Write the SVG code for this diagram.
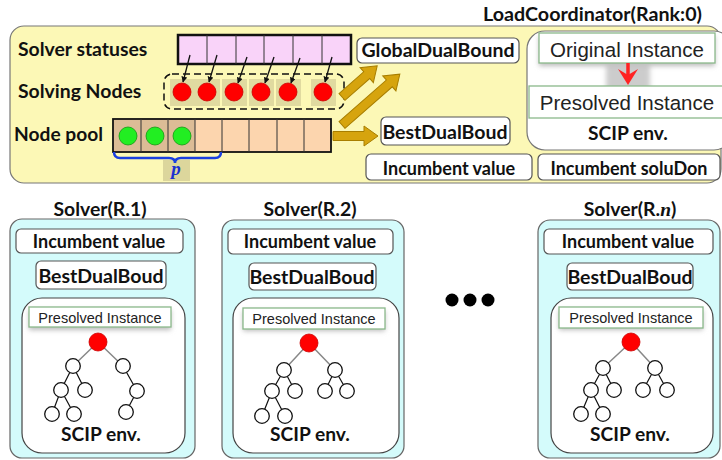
<svg xmlns="http://www.w3.org/2000/svg" width="722" height="460" viewBox="0 0 722 460">
<style>
.lbl{font-family:Lato,"Open Sans","Liberation Sans",sans-serif;font-weight:bold;fill:#111}
.inst{font-family:"Liberation Sans",Arial,sans-serif;fill:#222}
.box{fill:#fff;stroke:#555;stroke-width:1.2}
.ibox{fill:#fff;stroke:#8ab88a;stroke-width:1.3}
.tl{stroke:#111;stroke-width:1.2;fill:none}
.tg{stroke:#888;stroke-width:1.5;fill:none}
.tn{fill:#fff;stroke:#111;stroke-width:1.3}
.root{fill:#f00;stroke:#c00;stroke-width:0.8}
.gold{fill:#d6a40e;stroke:#a87e00;stroke-width:1}
.ar{stroke:#111;stroke-width:1.3;fill:none;marker-end:url(#ah)}
</style>
<defs>
<marker id="ah" viewBox="0 0 10 10" refX="9" refY="5" markerWidth="6" markerHeight="6" orient="auto" markerUnits="userSpaceOnUse">
<path d="M0,0 L10,5 L0,10 z" fill="#111"/>
</marker>
<filter id="sh" x="-20%" y="-50%" width="140%" height="200%">
<feGaussianBlur stdDeviation="2.5"/>
</filter>
</defs>

<g id="loadcoordinator">
<rect x="10" y="26" width="711" height="157" rx="14" fill="#fcf8b6" stroke="#777" stroke-width="1.2"/>
<text class="lbl" x="483" y="21" font-size="19.7">LoadCoordinator(Rank:0)</text>
</g>

<g id="solver-statuses">
<text class="lbl" x="18" y="56" font-size="19.4">Solver statuses</text>
<rect x="178" y="35" width="173" height="29" fill="#f9d3f9" stroke="#111" stroke-width="2.5"/>
<g stroke="#333" stroke-width="1">
<line x1="207" y1="35" x2="207" y2="64"/><line x1="236" y1="35" x2="236" y2="64"/><line x1="264" y1="35" x2="264" y2="64"/><line x1="293" y1="35" x2="293" y2="64"/><line x1="322" y1="35" x2="322" y2="64"/>
</g>
</g>

<g id="solving-nodes">
<text class="lbl" x="18" y="98" font-size="19.4">Solving Nodes</text>
<rect x="164" y="74" width="180" height="35" rx="8" fill="none" stroke="#111" stroke-width="1.5" stroke-dasharray="7,4"/>
<g fill="#e0daa0">
<rect x="170" y="79" width="25" height="27"/><rect x="195" y="79" width="25" height="27"/><rect x="222" y="79" width="25" height="27"/><rect x="249" y="79" width="25" height="27"/><rect x="276" y="79" width="25" height="27"/><rect x="311" y="79" width="25" height="27"/>
</g>
<g class="root">
<circle cx="182" cy="92" r="9"/><circle cx="207" cy="92" r="9"/><circle cx="234" cy="92" r="9"/><circle cx="261" cy="92" r="9"/><circle cx="288" cy="92" r="9"/><circle cx="323" cy="92" r="9"/>
</g>
</g>

<g id="node-pool">
<text class="lbl" x="14" y="141" font-size="19.2">Node pool</text>
<rect x="113" y="119" width="218" height="33" fill="#fcd5ae" stroke="#111" stroke-width="1.8"/>
<rect x="114" y="120" width="81" height="31" fill="#dcbc96"/>
<g stroke="#333" stroke-width="1">
<line x1="141" y1="119" x2="141" y2="152"/><line x1="168" y1="119" x2="168" y2="152"/><line x1="195" y1="119" x2="195" y2="152"/><line x1="222" y1="119" x2="222" y2="152"/><line x1="249" y1="119" x2="249" y2="152"/><line x1="277" y1="119" x2="277" y2="152"/><line x1="304" y1="119" x2="304" y2="152"/>
</g>
<g fill="#22ee22" stroke="#119911" stroke-width="0.8">
<circle cx="128" cy="136" r="9"/><circle cx="155" cy="136" r="9"/><circle cx="182" cy="136" r="9"/>
</g>
<rect x="163" y="160" width="27" height="21" fill="#dcd69c"/>
<path d="M114,152 Q114,158 120,158 L169,158 Q175,158 175,163 Q175,158 181,158 L215,158 Q221,158 221,152" fill="none" stroke="#1a40e0" stroke-width="2.5"/>
<text x="176" y="175" font-family="'Liberation Serif',serif" font-style="italic" font-weight="bold" font-size="19" fill="#1a30d0" text-anchor="middle">p</text>
</g>

<g id="globaldualbound">
<rect class="box" x="357" y="38" width="162" height="25" rx="5"/>
<text class="lbl" x="438" y="57" font-size="19.5" text-anchor="middle">GlobalDualBound</text>
</g>

<g id="bestdualboud-lc">
<rect class="box" x="381" y="117" width="129" height="28" rx="5"/>
<text class="lbl" x="445" y="139" font-size="19.5" text-anchor="middle">BestDualBoud</text>
</g>

<g id="scip-env-lc">
<rect x="527" y="31" width="205" height="119" rx="18" fill="#fff" stroke="#777" stroke-width="1.2"/>
<rect x="606" y="63" width="44" height="33" fill="#ccc" filter="url(#sh)"/>
<rect x="539" y="36" width="176" height="30" fill="#bbb" filter="url(#sh)"/>
<rect class="ibox" x="539" y="33" width="176" height="30"/>
<text class="inst" x="627" y="57" font-size="20.5" text-anchor="middle">Original Instance</text>
<rect class="ibox" x="529" y="86" width="195" height="32"/>
<text class="inst" x="627" y="110" font-size="20.5" text-anchor="middle">Presolved Instance</text>
<text class="lbl" x="628" y="140" font-size="19.2" text-anchor="middle">SCIP env.</text>
</g>

<g id="incumbent-value-lc">
<rect class="box" x="366" y="154" width="166" height="26" rx="5"/>
<text class="lbl" x="449" y="175" font-size="18" text-anchor="middle">Incumbent value</text>
</g>
<g id="incumbent-solution-lc">
<rect class="box" x="538" y="154" width="182" height="26" rx="5"/>
<text class="lbl" x="629" y="175" font-size="18" text-anchor="middle">Incumbent soluDon</text>
</g>

<g id="solver-1">
<text class="lbl" x="100" y="216" font-size="19.4" text-anchor="middle">Solver(R.1)</text>
<rect x="10" y="219" width="185" height="239" rx="12" fill="#d4fbfb" stroke="#666" stroke-width="1.2"/>
<rect class="box" x="16" y="229" width="167" height="24" rx="5"/>
<text class="lbl" x="99" y="248" font-size="18" text-anchor="middle">Incumbent value</text>
<rect class="box" x="36" y="261" width="130" height="28" rx="5"/>
<text class="lbl" x="101" y="283" font-size="19.5" text-anchor="middle">BestDualBoud</text>
<rect x="22" y="298" width="163" height="155" rx="20" fill="#fff" stroke="#444" stroke-width="1.2"/>
<rect x="29" y="310" width="142" height="20" fill="#bbb" filter="url(#sh)"/>
<rect class="ibox" x="29" y="307" width="142" height="20"/>
<text class="inst" x="100" y="323" font-size="14.5" fill="#444" text-anchor="middle">Presolved Instance</text>
<path class="tg" d="M98,342 L73,366 M98,342 L123,366"/>
<path class="tl" d="M73,366 L61,390 M73,366 L85,390 M61,390 L52,414 M61,390 L74,414 M123,366 L137,391 M137,391 L126,412"/>
<g class="tn"><circle cx="73" cy="366" r="7.3"/><circle cx="123" cy="366" r="7.3"/><circle cx="61" cy="390" r="7.3"/><circle cx="85" cy="390" r="7.3"/><circle cx="137" cy="391" r="7.3"/><circle cx="52" cy="414" r="7.3"/><circle cx="74" cy="414" r="7.3"/><circle cx="126" cy="412" r="7.3"/></g>
<circle class="root" cx="98" cy="342" r="9"/>
<text class="lbl" x="101" y="441" font-size="19.2" text-anchor="middle">SCIP env.</text>
</g>

<g id="solver-2">
<text class="lbl" x="310" y="216" font-size="19.4" text-anchor="middle">Solver(R.2)</text>
<rect x="222" y="220" width="182" height="238" rx="12" fill="#d4fbfb" stroke="#666" stroke-width="1.2"/>
<rect class="box" x="228" y="229" width="165" height="25" rx="5"/>
<text class="lbl" x="310" y="248" font-size="18" text-anchor="middle">Incumbent value</text>
<rect class="box" x="249" y="263" width="127" height="27" rx="5"/>
<text class="lbl" x="312" y="284" font-size="19.5" text-anchor="middle">BestDualBoud</text>
<rect x="233" y="298" width="166" height="155" rx="20" fill="#fff" stroke="#444" stroke-width="1.2"/>
<rect x="243" y="311" width="142" height="20" fill="#bbb" filter="url(#sh)"/>
<rect class="ibox" x="243" y="308" width="142" height="21"/>
<text class="inst" x="314" y="324" font-size="14.5" fill="#444" text-anchor="middle">Presolved Instance</text>
<path class="tg" d="M309,343 L284,370 M309,343 L335,370"/>
<path class="tl" d="M284,370 L272,391 M284,370 L295,391 M335,370 L325,391 M335,370 L347,391 M272,391 L262,416 M272,391 L285,416"/>
<g class="tn"><circle cx="284" cy="370" r="7.3"/><circle cx="335" cy="370" r="7.3"/><circle cx="272" cy="391" r="7.3"/><circle cx="295" cy="391" r="7.3"/><circle cx="325" cy="391" r="7.3"/><circle cx="347" cy="391" r="7.3"/><circle cx="262" cy="416" r="7.3"/><circle cx="285" cy="416" r="7.3"/></g>
<circle class="root" cx="309" cy="343" r="9"/>
<text class="lbl" x="310" y="441" font-size="19.2" text-anchor="middle">SCIP env.</text>
</g>

<g id="ellipsis">
<circle cx="452" cy="300" r="6.5" fill="#000"/><circle cx="470" cy="300" r="6.5" fill="#000"/><circle cx="488" cy="300" r="6.5" fill="#000"/>
</g>

<g id="solver-n">
<text class="lbl" x="630" y="216" font-size="19.4" text-anchor="middle">Solver(R.<tspan font-family="'Liberation Serif',serif" font-style="italic">n</tspan>)</text>
<rect x="538" y="220" width="182" height="238" rx="12" fill="#d4fbfb" stroke="#666" stroke-width="1.2"/>
<rect class="box" x="544" y="229" width="169" height="25" rx="5"/>
<text class="lbl" x="628" y="248" font-size="18" text-anchor="middle">Incumbent value</text>
<rect class="box" x="567" y="263" width="126" height="27" rx="5"/>
<text class="lbl" x="630" y="284" font-size="19.5" text-anchor="middle">BestDualBoud</text>
<rect x="551" y="298" width="162" height="155" rx="20" fill="#fff" stroke="#444" stroke-width="1.2"/>
<rect x="559" y="310" width="144" height="20" fill="#bbb" filter="url(#sh)"/>
<rect class="ibox" x="559" y="307" width="144" height="21"/>
<text class="inst" x="631" y="323" font-size="14.5" fill="#444" text-anchor="middle">Presolved Instance</text>
<path class="tg" d="M631,342 L603,368 M631,342 L655,368"/>
<path class="tl" d="M603,368 L591,390 M603,368 L614,390 M655,368 L643,390 M655,368 L667,390 M591,390 L581,414 M591,390 L603,414"/>
<g class="tn"><circle cx="603" cy="368" r="7.3"/><circle cx="655" cy="368" r="7.3"/><circle cx="591" cy="390" r="7.3"/><circle cx="614" cy="390" r="7.3"/><circle cx="643" cy="390" r="7.3"/><circle cx="667" cy="390" r="7.3"/><circle cx="581" cy="414" r="7.3"/><circle cx="603" cy="414" r="7.3"/></g>
<circle class="root" cx="631" cy="342" r="9"/>
<text class="lbl" x="630" y="441" font-size="19.2" text-anchor="middle">SCIP env.</text>
</g>

<g id="connectors">
<line class="ar" x1="190" y1="55" x2="183" y2="82"/>
<line class="ar" x1="217" y1="55" x2="209" y2="82"/>
<line class="ar" x1="247" y1="57" x2="238" y2="83"/>
<line class="ar" x1="274" y1="57" x2="265" y2="83"/>
<line class="ar" x1="300" y1="58" x2="291" y2="83"/>
<line class="ar" x1="332" y1="57" x2="325" y2="82"/>
<path class="gold" transform="translate(342,97) rotate(-41.5)" d="M0,-4.5 L33,-4.5 L33,-10 L47,0 L33,10 L33,4.5 L0,4.5 Z"/>
<path class="gold" transform="translate(342,125) rotate(-41.3)" d="M0,-4.5 L63,-4.5 L63,-10 L77,0 L63,10 L63,4.5 L0,4.5 Z"/>
<path class="gold" transform="translate(333,136)" d="M0,-4.5 L31,-4.5 L31,-10 L45,0 L31,10 L31,4.5 L0,4.5 Z"/>
<path d="M628,63 L628,76" stroke="#f22" stroke-width="3.5"/>
<path d="M618,69 L628,85 L638,69 L628,75 Z" fill="#f22"/>
</g>
</svg>
